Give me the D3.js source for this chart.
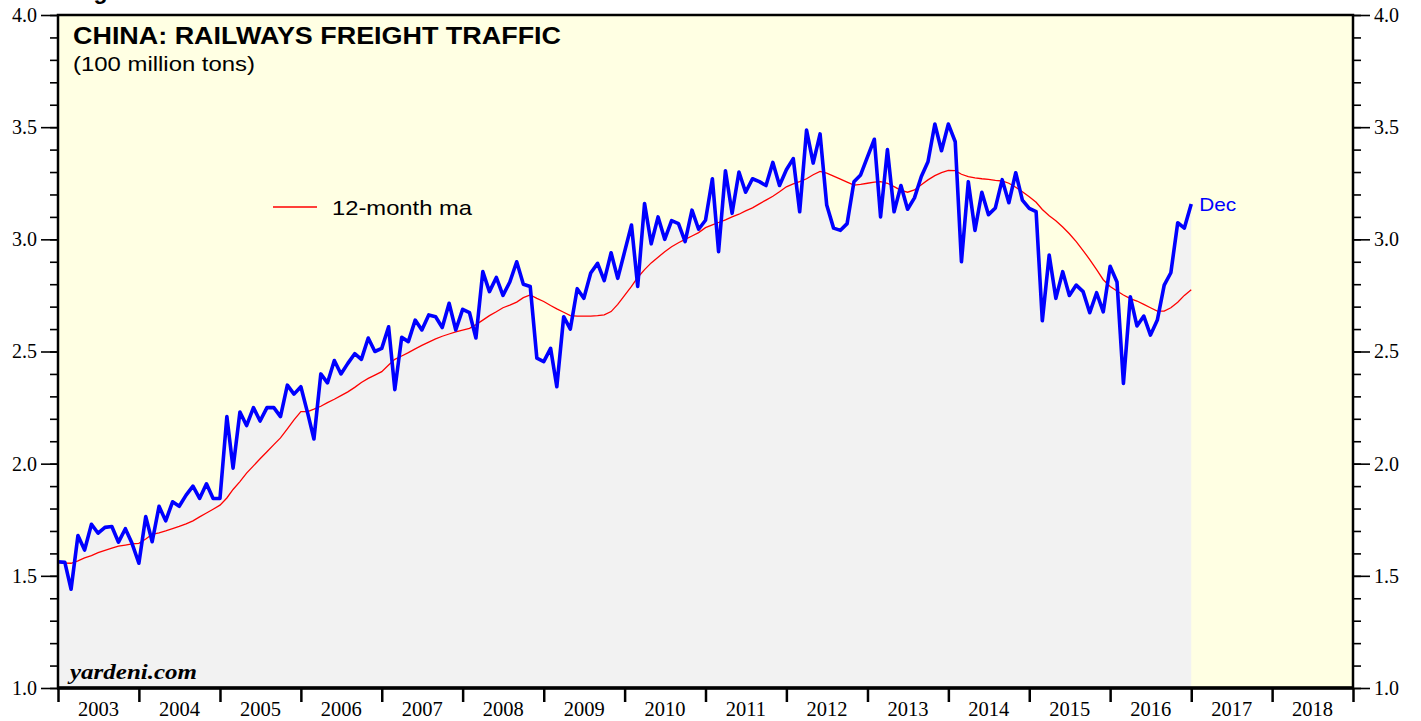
<!DOCTYPE html>
<html>
<head>
<meta charset="utf-8">
<script src="https://cdn.jsdelivr.net/npm/d3@7"></script>
<style>
  body { margin: 0; background: #fff; }
  svg text { font-family: "Liberation Serif", "DejaVu Serif", serif; }
  .sans { font-family: "Liberation Sans", Arial, sans-serif !important; }
</style>
</head>
<body>
<div id="chart"></div>
<script>
// monthly data, first value is Dec 2002, last is Dec 2016 (plotted at month end)
var startYear = 2002, startMonth = 11;

var freight = [
  1.563, 1.56, 1.44, 1.68, 1.615, 1.73, 1.69, 1.716, 1.72, 1.65, 1.71, 1.645,
  1.556, 1.764, 1.652, 1.81, 1.745, 1.83, 1.81, 1.86, 1.90, 1.845, 1.91, 1.845,
  1.845, 2.21, 1.98, 2.23, 2.17, 2.25, 2.19, 2.25, 2.25, 2.21, 2.35, 2.31,
  2.343, 2.224, 2.11, 2.40, 2.36, 2.46, 2.40, 2.447, 2.49, 2.465, 2.56, 2.50,
  2.514, 2.61, 2.33, 2.563, 2.544, 2.64, 2.596, 2.663, 2.655, 2.607, 2.715, 2.596,
  2.688, 2.673, 2.56, 2.856, 2.767, 2.83, 2.75, 2.81, 2.90, 2.80, 2.79, 2.47,
  2.455, 2.514, 2.343, 2.655, 2.60, 2.78, 2.737, 2.85, 2.893, 2.816, 2.94, 2.826,
  2.945, 3.064, 2.79, 3.16, 2.98, 3.10, 3.00, 3.083, 3.07, 2.99, 3.13, 3.045,
  3.085, 3.27, 2.945, 3.306, 3.116, 3.30, 3.21, 3.27, 3.257, 3.24, 3.343, 3.24,
  3.31, 3.36, 3.123, 3.487, 3.34, 3.47, 3.153, 3.05, 3.04, 3.07, 3.257, 3.287,
  3.368, 3.446, 3.10, 3.40, 3.123, 3.24, 3.134, 3.185, 3.28, 3.346, 3.514, 3.395,
  3.514, 3.435, 2.90, 3.257, 3.04, 3.21, 3.11, 3.14, 3.266, 3.163, 3.297, 3.175,
  3.138, 3.123, 2.637, 2.93, 2.737, 2.856, 2.75, 2.796, 2.767, 2.673, 2.762, 2.677,
  2.88, 2.81, 2.358, 2.744, 2.614, 2.658, 2.573, 2.64, 2.796, 2.851, 3.074, 3.05,
  3.157
];

var movingAvg = [
  1.559, 1.557, 1.556, 1.567, 1.58, 1.59, 1.603, 1.613, 1.623, 1.632, 1.637, 1.642,
  1.645, 1.664, 1.685, 1.692, 1.70, 1.71, 1.72, 1.732, 1.745, 1.763, 1.78, 1.797,
  1.815, 1.847, 1.885, 1.92, 1.958, 1.99, 2.022, 2.053, 2.085, 2.115, 2.155, 2.195,
  2.232, 2.232, 2.243, 2.256, 2.272, 2.287, 2.303, 2.32, 2.34, 2.362, 2.38, 2.395,
  2.41, 2.44, 2.465, 2.48, 2.495, 2.512, 2.527, 2.542, 2.556, 2.568, 2.578, 2.587,
  2.595, 2.603, 2.62, 2.64, 2.66, 2.677, 2.695, 2.707, 2.72, 2.74, 2.752, 2.737,
  2.723, 2.705, 2.69, 2.675, 2.66, 2.658, 2.658, 2.658, 2.66, 2.663, 2.678, 2.71,
  2.75, 2.79, 2.83, 2.865, 2.895, 2.92, 2.945, 2.967, 2.985, 3.0, 3.015, 3.03,
  3.052, 3.064, 3.075, 3.087, 3.10, 3.112, 3.127, 3.14, 3.158, 3.175, 3.192, 3.212,
  3.234, 3.247, 3.257, 3.27, 3.288, 3.303, 3.295, 3.282, 3.268, 3.255, 3.242, 3.245,
  3.25, 3.255, 3.257, 3.25, 3.235, 3.218, 3.21, 3.22, 3.243, 3.265, 3.284, 3.297,
  3.307, 3.306, 3.29, 3.28, 3.274, 3.27, 3.267, 3.263, 3.26, 3.25, 3.232, 3.212,
  3.19, 3.165, 3.133, 3.105, 3.083, 3.055, 3.025, 2.99, 2.95, 2.91, 2.865, 2.82,
  2.79, 2.77, 2.752, 2.736, 2.725, 2.71, 2.695, 2.68, 2.68, 2.695, 2.72, 2.75,
  2.775
];

var years = d3.range(2003, 2019);
var yMajor = [1.0, 1.5, 2.0, 2.5, 3.0, 3.5, 4.0];

var W = 1421, H = 721;
var pL = 58, pR = 1353, pT = 15, pB = 688;

var svg = d3.select("#chart").append("svg").attr("width", W).attr("height", H);

var x = d3.scaleTime()
  .domain([new Date(2003, 0, 1), new Date(2019, 0, 1)])
  .range([pL, pR]);
var y = d3.scaleLinear().domain([1, 4]).range([pB, pT]);

// month-end date for each value
var rows = freight.map(function(d, i){
  return {date: new Date(startYear, startMonth + i + 1, 1), v: d, ma: movingAvg[i]};
});

svg.append("rect").attr("x", pL).attr("y", pT)
  .attr("width", pR - pL).attr("height", pB - pT)
  .attr("fill", "#ffffe3");

var area = d3.area().x(function(d){ return x(d.date); })
  .y0(pB).y1(function(d){ return y(d.v); });
svg.append("path").datum(rows).attr("d", area).attr("fill", "#f2f2f2");

var line = d3.line().x(function(d){ return x(d.date); }).y(function(d){ return y(d.v); });
var maLine = d3.line().x(function(d){ return x(d.date); }).y(function(d){ return y(d.ma); });

svg.append("path").datum(rows).attr("d", maLine)
  .attr("fill", "none").attr("stroke", "#ff0000").attr("stroke-width", 1.3);
svg.append("path").datum(rows).attr("d", line)
  .attr("fill", "none").attr("stroke", "#0000ff").attr("stroke-width", 3.6)
  .attr("stroke-linejoin", "round");

// frame
svg.append("rect").attr("x", pL).attr("y", pT)
  .attr("width", pR - pL).attr("height", pB - pT)
  .attr("fill", "none").attr("stroke", "#000").attr("stroke-width", 2.5);

// y axes: minor ticks every 0.1, major every 0.5
var minorVals = d3.range(10, 41).map(function(d){ return d / 10; });
function yAxes(g, gen) {
  g.append("g").call(gen(y).tickValues(minorVals).tickSize(8).tickFormat(""));
  g.append("g").call(gen(y).tickValues(yMajor).tickSize(17).tickPadding(4).tickFormat(d3.format(".1f")));
  g.selectAll(".domain").remove();
  g.selectAll("line").attr("stroke", "#000").attr("stroke-width", 1.6);
  g.selectAll("text").attr("font-size", 20).attr("fill", "#000")
    .style("font-family", "'Liberation Serif', serif");
}
svg.append("g").attr("transform", "translate(" + pL + ",0)").call(function(g){ yAxes(g, d3.axisLeft); });
svg.append("g").attr("transform", "translate(" + pR + ",0)").call(function(g){ yAxes(g, d3.axisRight); });

// x axis
var xg = svg.append("g").attr("transform", "translate(0," + pB + ")");
xg.call(d3.axisBottom(x).tickValues(years.concat([2019]).map(function(yr){ return new Date(yr, 0, 1); }))
  .tickSize(14).tickFormat(""));
xg.select(".domain").remove();
xg.selectAll("line").attr("stroke", "#000").attr("stroke-width", 2.5);
svg.append("line").attr("x1", pL - 1).attr("x2", pR + 1).attr("y1", pB).attr("y2", pB)
  .attr("stroke", "#000").attr("stroke-width", 3.5);

svg.append("g").selectAll("text").data(years).enter().append("text")
  .attr("x", function(d){ return (x(new Date(d, 0, 1)) + x(new Date(d + 1, 0, 1))) / 2; })
  .attr("y", 716).attr("text-anchor", "middle").attr("font-size", 20.5)
  .text(function(d){ return d; });

// titles
svg.append("text").attr("class", "sans").attr("x", 73).attr("y", -1)
  .attr("font-size", 23).attr("font-weight", "bold").text("Figure 1.");
svg.append("text").attr("class", "sans").attr("x", 73).attr("y", 44)
  .attr("font-size", 23.5).attr("font-weight", "bold")
  .attr("textLength", 488).attr("lengthAdjust", "spacingAndGlyphs")
  .text("CHINA: RAILWAYS FREIGHT TRAFFIC");
svg.append("text").attr("class", "sans").attr("x", 73).attr("y", 71)
  .attr("font-size", 21).attr("textLength", 182).attr("lengthAdjust", "spacingAndGlyphs")
  .text("(100 million tons)");

// legend
svg.append("line").attr("x1", 273).attr("x2", 317).attr("y1", 207).attr("y2", 207)
  .attr("stroke", "#ff0000").attr("stroke-width", 1.3);
svg.append("text").attr("class", "sans").attr("x", 332).attr("y", 215)
  .attr("font-size", 21).attr("textLength", 140).attr("lengthAdjust", "spacingAndGlyphs")
  .text("12-month ma");

// last point label
var last = rows[rows.length - 1];
svg.append("text").attr("class", "sans").attr("x", x(last.date) + 8).attr("y", y(last.v) + 7)
  .attr("font-size", 19).attr("fill", "#0000ff")
  .attr("textLength", 37).attr("lengthAdjust", "spacingAndGlyphs").text("Dec");

svg.append("text").attr("x", 70).attr("y", 679)
  .attr("font-size", 21).attr("font-weight", "bold").attr("font-style", "italic")
  .attr("textLength", 127).attr("lengthAdjust", "spacingAndGlyphs")
  .text("yardeni.com");
</script>
</body>
</html>
